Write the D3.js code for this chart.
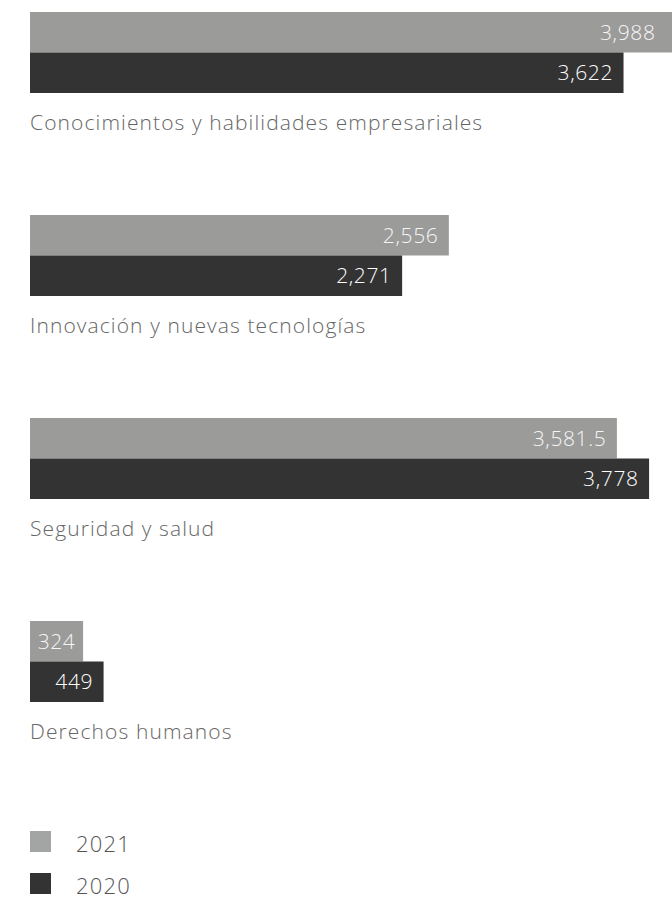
<!DOCTYPE html>
<html><head><meta charset="utf-8">
<script src="https://cdn.jsdelivr.net/npm/d3@7"></script>
<style>
html,body{margin:0;padding:0;background:#fff;overflow:hidden;}
svg{display:block;}
text{font-family:"Open Sans",Lato,sans-serif;font-weight:300;}
</style></head>
<body>
<script>
const categories = ["Conocimientos y habilidades empresariales","Innovación y nuevas tecnologías","Seguridad y salud","Derechos humanos"];
const values2021 = [3988, 2556, 3581.5, 324];
const values2020 = [3622, 2271, 3778, 449];
const labels2021 = ["3,988","2,556","3,581.5","324"];
const labels2020 = ["3,622","2,271","3,778","449"];
const seriesNames = ["2021","2020"];
const seriesColors = ["#9b9b9a","#333333"];
const legendColors = ["#a3a5a5","#333333"];

const W = 672, H = 897;
const svg = d3.select("body").append("svg").attr("width", W).attr("height", H);

const x = d3.scaleLinear().domain([0, 3988]).range([30, 683.5]);
const y = d3.scaleBand().domain(categories).range([12, 824]).paddingInner(0);
const sub = d3.scaleBand().domain(seriesNames).range([0, 81]);

const series = [
  {name: seriesNames[0], values: values2021, labels: labels2021, color: seriesColors[0], text: "#f6f6f6"},
  {name: seriesNames[1], values: values2020, labels: labels2020, color: seriesColors[1], text: "#ffffff"}
];

const g = svg.append("g");
series.forEach(s => {
  const grp = g.append("g");
  categories.forEach((c, i) => {
    const y0 = y(c) + sub(s.name);
    const h = sub.bandwidth();
    grp.append("rect")
      .attr("x", x(0)).attr("y", y0)
      .attr("width", x(s.values[i]) - x(0)).attr("height", h)
      .attr("fill", s.color);
    const t = grp.append("text")
      .attr("y", y0 + h / 2 + 7.5)
      .attr("fill", s.text)
      .style("font-size", "21px")
      .style("letter-spacing", "0.6px")
      .text(s.labels[i]);
    const tw = t.node().getComputedTextLength();
    const barW = x(s.values[i]) - x(0);
    if (barW < tw + 22) {
      t.attr("x", x(0) + barW / 2).attr("text-anchor", "middle");
    } else {
      const end = Math.min(x(s.values[i]), W - 6);
      t.attr("x", end - 10.5).attr("text-anchor", "end");
    }
  });
});

g.selectAll("text.cat").data(categories).join("text")
  .attr("class", "cat")
  .attr("x", 30)
  .attr("y", d => y(d) + 117.5)
  .attr("fill", "#666")
  .style("font-size", "21px")
  .style("letter-spacing", "1.1px")
  .text(d => d);

const leg = svg.append("g");
seriesNames.forEach((n, i) => {
  leg.append("rect").attr("x", 30).attr("y", 831 + i * 42).attr("width", 21).attr("height", 21).attr("fill", legendColors[i]);
  leg.append("text").attr("x", 76).attr("y", 852 + i * 42).attr("fill", "#555")
    .style("font-size", "22px").style("letter-spacing", "1.2px").text(n);
});
</script>
</body></html>
